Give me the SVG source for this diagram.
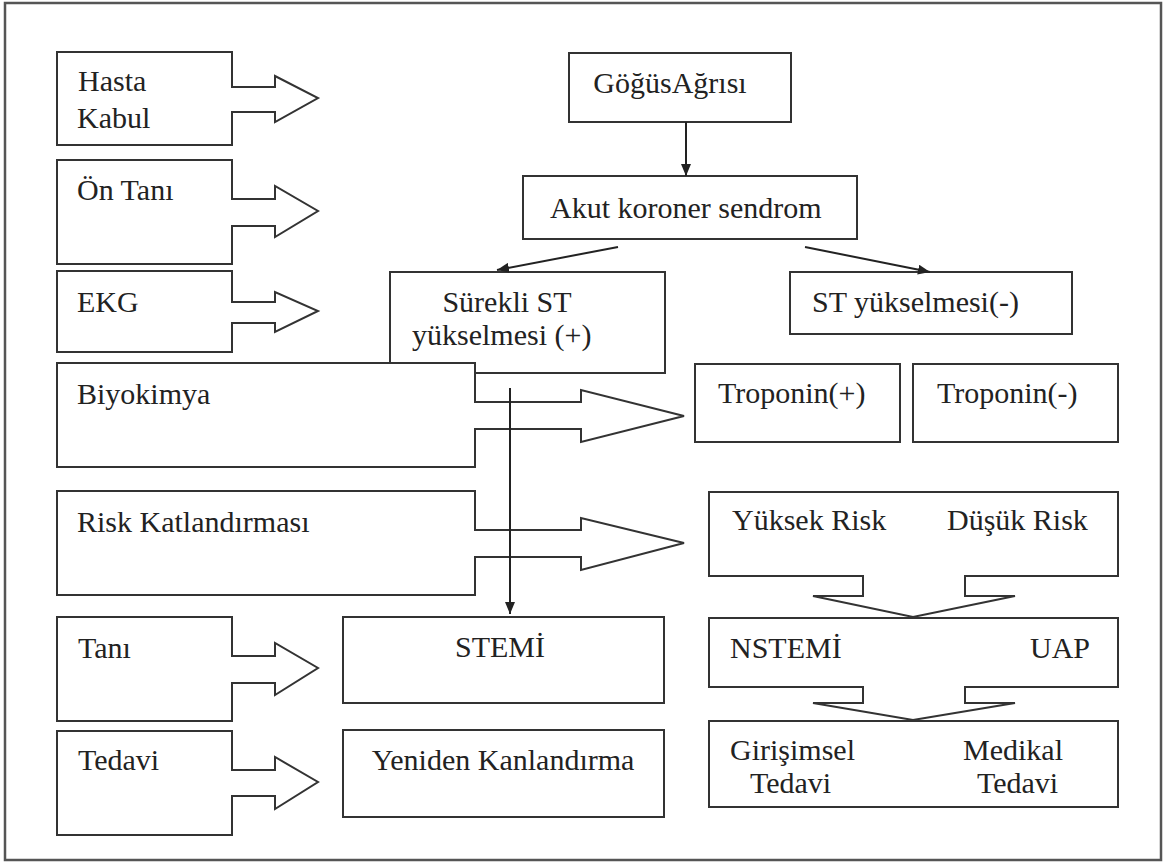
<svg xmlns="http://www.w3.org/2000/svg" width="1166" height="864" viewBox="0 0 1166 864">
<style>
.s{fill:#fff;stroke:#333;stroke-width:2;stroke-linejoin:miter}
.t{font-size:30px;fill:#222}
.c{fill:none;stroke:#222;stroke-width:2}
.m{text-anchor:middle}
</style>
<defs>
<marker id="ah" viewBox="0 0 12 10" refX="12" refY="5" markerWidth="12" markerHeight="10" markerUnits="userSpaceOnUse" orient="auto">
<path d="M0,0 L12,5 L0,10 Z" fill="#222"/>
</marker>
</defs>
<rect x="0" y="0" width="1166" height="864" fill="#fff"/>
<rect x="5" y="3" width="1156" height="857" fill="none" stroke="#555" stroke-width="2.5"/>
<g font-family="Liberation Serif, Tinos, DejaVu Serif, Times New Roman, serif">
<g id="hasta-kabul">
<path class="s" d="M57,52 H232 V87 H275 V76 L318,98 L275,122 V112 H232 V145 H57 Z"/>
<text class="t" x="78" y="91">Hasta</text>
<text class="t" x="77" y="128">Kabul</text>
</g>
<g id="on-tani">
<path class="s" d="M57,160 H232 V199 H275 V186 L318,211 L275,237 V226 H232 V264 H57 Z"/>
<text class="t" x="77" y="200">Ön Tanı</text>
</g>
<g id="ekg">
<path class="s" d="M57,271 H232 V302 H275 V292 L318,311 L275,332 V323 H232 V352 H57 Z"/>
<text class="t" x="77" y="312">EKG</text>
</g>

<g id="gogus-agrisi">
<rect class="s" x="569" y="53" width="222" height="69"/>
<text class="t m" x="670" y="93">GöğüsAğrısı</text>
</g>
<g id="akut-koroner">
<rect class="s" x="523" y="176" width="334" height="63"/>
<text class="t" x="550" y="218">Akut koroner sendrom</text>
</g>
<g id="surekli-st">
<rect class="s" x="390" y="272" width="275" height="101"/>
<text class="t m" x="507" y="312">Sürekli ST</text>
<text class="t" x="412" y="345">yükselmesi (+)</text>
</g>
<g id="st-yukselmesi-neg">
<rect class="s" x="790" y="272" width="282" height="62"/>
<text class="t" x="812" y="312">ST yükselmesi(-)</text>
</g>

<g id="biyokimya">
<path class="s" d="M57,363 H475 V402 H581 V390 L684,416 L581,442 V429 H475 V467 H57 Z"/>
<text class="t" x="77" y="404">Biyokimya</text>
</g>
<g id="troponin-pos">
<rect class="s" x="695" y="364" width="205" height="78"/>
<text class="t" x="718" y="403">Troponin(+)</text>
</g>
<g id="troponin-neg">
<rect class="s" x="913" y="364" width="205" height="78"/>
<text class="t" x="937" y="403">Troponin(-)</text>
</g>

<g id="risk-katlandirmasi">
<path class="s" d="M57,491 H475 V530 H581 V518 L684,543 L581,570 V557 H475 V595 H57 Z"/>
<text class="t" x="77" y="532">Risk Katlandırması</text>
</g>
<g id="risk-grup">
<path class="s" d="M709,492 H1118 V576 H965 V596 H1015 L913,617 L813,596 H863 V576 H709 Z"/>
<text class="t" x="732" y="530">Yüksek Risk</text>
<text class="t" x="947" y="530">Düşük Risk</text>
</g>

<g id="tani">
<path class="s" d="M57,617 H232 V656 H275 V643 L318,668 L275,695 V683 H232 V721 H57 Z"/>
<text class="t" x="78" y="658">Tanı</text>
</g>
<g id="stemi">
<rect class="s" x="343" y="617" width="321" height="86"/>
<text class="t m" x="500" y="657">STEMİ</text>
</g>
<g id="nstemi-uap">
<path class="s" d="M709,618 H1118 V687 H965 V703 H1015 L913,720 L813,703 H863 V687 H709 Z"/>
<text class="t" x="730" y="658">NSTEMİ</text>
<text class="t" x="1030" y="658">UAP</text>
</g>

<g id="tedavi">
<path class="s" d="M57,731 H232 V770 H275 V757 L318,782 L275,809 V796 H232 V835 H57 Z"/>
<text class="t" x="78" y="770">Tedavi</text>
</g>
<g id="yeniden-kanlandirma">
<rect class="s" x="343" y="730" width="321" height="87"/>
<text class="t m" x="503" y="770">Yeniden Kanlandırma</text>
</g>
<g id="tedavi-secenekleri">
<rect class="s" x="709" y="721" width="409" height="86"/>
<text class="t" x="730" y="760">Girişimsel</text>
<text class="t" x="750" y="793">Tedavi</text>
<text class="t" x="963" y="760">Medikal</text>
<text class="t" x="977" y="793">Tedavi</text>
</g>
</g>
<g id="connectors">
<line class="c" x1="686" y1="122" x2="686" y2="176" marker-end="url(#ah)"/>
<line class="c" x1="618" y1="247" x2="497" y2="270" marker-end="url(#ah)"/>
<line class="c" x1="805" y1="247" x2="930" y2="272" marker-end="url(#ah)"/>
<line class="c" x1="510" y1="388" x2="510" y2="614" marker-end="url(#ah)" stroke-width="1.5"/>
</g>
</svg>
